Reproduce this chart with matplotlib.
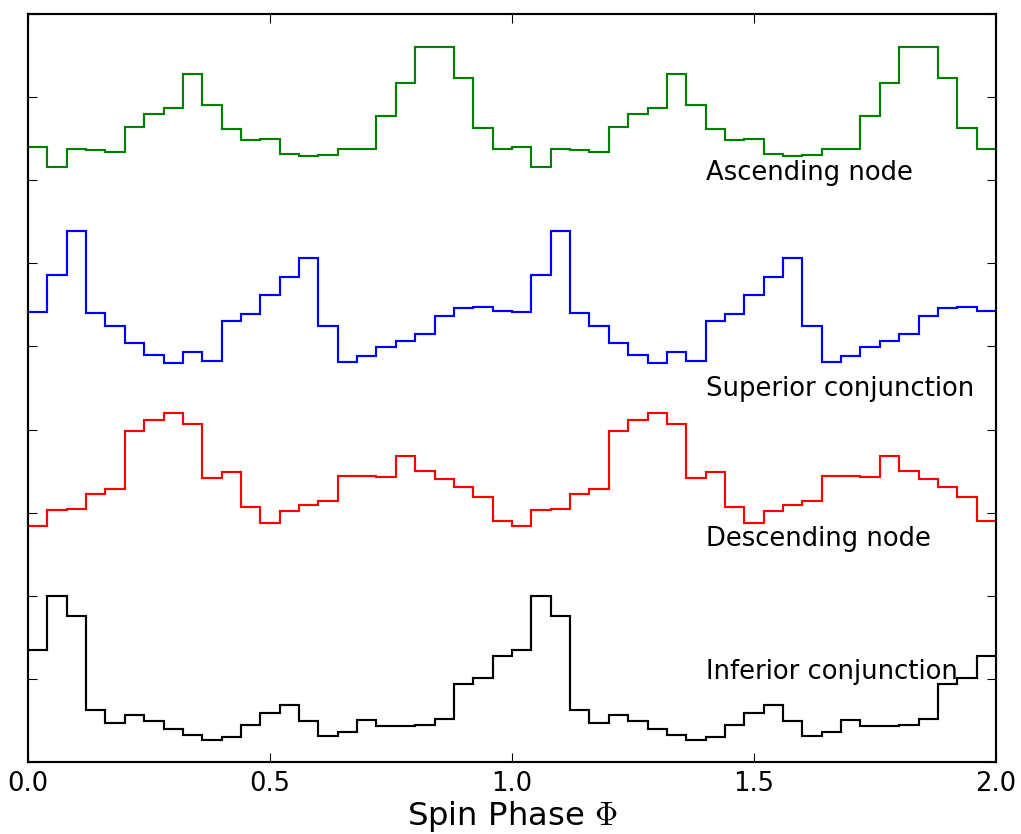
import numpy as np
import matplotlib
matplotlib.use("Agg")
import matplotlib.pyplot as plt

plt.style.use('classic')

# Light curves folded on the spin period, 25 bins per cycle (already offset)
inferior = [1.35, 2.00, 1.76, 0.63, 0.47, 0.56, 0.49, 0.40, 0.32, 0.26,
            0.30, 0.44, 0.59, 0.69, 0.49, 0.31, 0.36, 0.50, 0.43, 0.43,
            0.44, 0.52, 0.94, 1.01, 1.27]
descending = [2.84, 3.03, 3.04, 3.22, 3.28, 3.98, 4.11, 4.20, 4.07, 3.42,
              3.49, 3.07, 2.87, 3.02, 3.09, 3.14, 3.44, 3.44, 3.43, 3.68,
              3.50, 3.40, 3.31, 3.19, 2.90]
superior = [5.42, 5.86, 6.39, 5.40, 5.25, 5.04, 4.90, 4.80, 4.93, 4.83,
            5.31, 5.39, 5.62, 5.84, 6.06, 5.25, 4.81, 4.88, 4.99, 5.06,
            5.15, 5.37, 5.46, 5.47, 5.43]
ascending = [7.40, 7.16, 7.38, 7.36, 7.34, 7.64, 7.80, 7.87, 8.28, 7.91,
             7.62, 7.48, 7.50, 7.32, 7.29, 7.30, 7.38, 7.38, 7.77, 8.17,
             8.60, 8.60, 8.23, 7.63, 7.38]

curvas = [
    (ascending, 'g', 'Ascending node', 7.0),
    (superior, 'b', 'Superior conjunction', 4.4),
    (descending, 'r', 'Descending node', 2.6),
    (inferior, 'k', 'Inferior conjunction', 1.0),
]

nbins = len(inferior)
bordes = np.linspace(0, 2, 2 * nbins + 1)

fig = plt.figure(figsize=(1021 / 155, 834 / 155), dpi=155)
fig.patch.set_facecolor('white')
ax = fig.add_axes([28 / 1021, 72 / 834, 968 / 1021, 748 / 834])

for valores, color, etiqueta, ytexto in curvas:
    # dos ciclos de fase
    ax.stairs(np.concatenate([valores, valores]), bordes, color=color,
              baseline=None, linewidth=1.0)
    ax.text(1.4, ytexto, etiqueta, fontsize=12)

ax.set_xlim(0, 2)
ax.set_ylim(0, 9)
ax.set_xticks([0.0, 0.5, 1.0, 1.5, 2.0])
ax.set_yticks(range(10))
ax.set_yticklabels([])
ax.set_xlabel(r'Spin Phase $\Phi$', fontsize=15, labelpad=1)

fig.savefig('out.png', dpi=155, facecolor='white')
